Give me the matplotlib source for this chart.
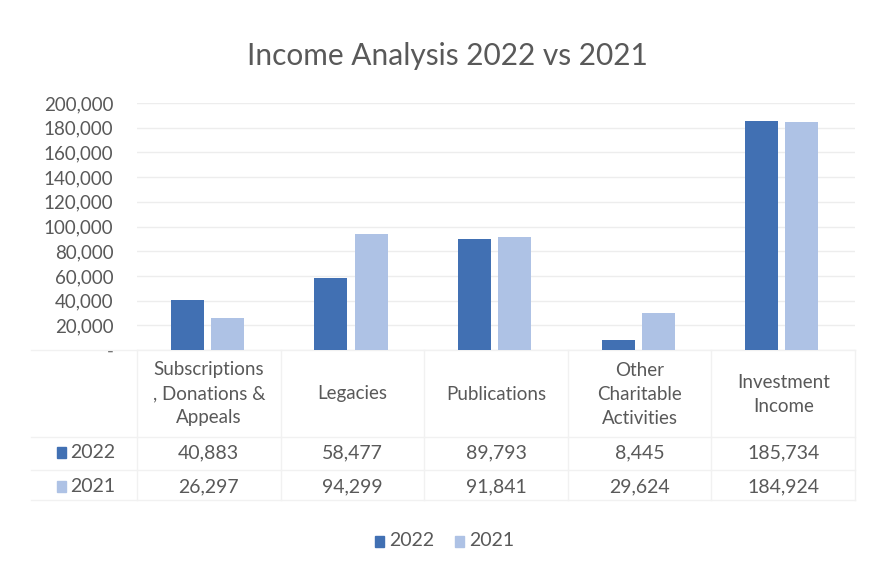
import numpy as np
import matplotlib
matplotlib.use("Agg")
import matplotlib.pyplot as plt
from matplotlib.transforms import blended_transform_factory

# ── data ─────────────────────────────────────────────────────────────────────
categories = [
    "Subscriptions\n, Donations &\nAppeals",
    "Legacies",
    "Publications",
    "Other\nCharitable\nActivities",
    "Investment\nIncome",
]
income_2022 = [40883, 58477, 89793, 8445, 185734]
income_2021 = [26297, 94299, 91841, 29624, 184924]
series_names = ["2022", "2021"]
y_ticks = [0, 20000, 40000, 60000, 80000, 100000, 120000, 140000, 160000, 180000, 200000]

DARK = "#4170B3"
LIGHT = "#AEC2E5"
TEXT = "#595959"
GRID = "#EDEDED"
TABLE_LINE = "#F1F1F1"

plt.rcParams["font.family"] = ["Lato", "DejaVu Sans"]

fig = plt.figure(figsize=(8.71, 5.67), dpi=100)
ax = fig.add_axes([137 / 871, 1 - 350 / 567, (855 - 137) / 871, (350 - 103) / 567])

x = np.arange(len(categories))
bw = 0.23
ax.bar(x - 0.15, income_2022, bw, color=DARK, zorder=3)
ax.bar(x + 0.13, income_2021, bw, color=LIGHT, zorder=3)

ax.set_xlim(-0.5, len(categories) - 0.5)
ax.set_ylim(0, 200000)
ax.set_yticks(y_ticks)
ax.set_yticklabels(["-" if v == 0 else f"{v:,}" for v in y_ticks],
                   fontsize=13.5, color=TEXT)
ax.tick_params(axis="y", length=0, pad=17)
ax.set_xticks([])
ax.yaxis.grid(True, color=GRID, linewidth=1)
ax.set_axisbelow(True)
for s in ax.spines.values():
    s.set_visible(False)

fig.text(447 / 871, 1 - 56 / 567, "Income Analysis 2022 vs 2021",
         ha="center", va="center", fontsize=21.5, color=TEXT)

# ── data table under the plot ───────────────────────────────────────────────
tr = blended_transform_factory(ax.transData, ax.transAxes)
h = (350 - 103)


def ypos(py):
    # pixel row -> axes fraction
    return (350 - py) / h


for i, cat in enumerate(categories):
    ax.text(i, ypos(394), cat, transform=tr, ha="center", va="center",
            fontsize=13.5, color=TEXT, linespacing=1.5, clip_on=False)
    ax.text(i, ypos(453), f"{income_2022[i]:,}", transform=tr, ha="center",
            va="center", fontsize=14, color=TEXT, clip_on=False)
    ax.text(i, ypos(487), f"{income_2021[i]:,}", transform=tr, ha="center",
            va="center", fontsize=14, color=TEXT, clip_on=False)

# row headers with colour keys
for py, name, col in [(453, series_names[0], DARK), (487, series_names[1], LIGHT)]:
    fig.patches.append(plt.Rectangle((57 / 871, 1 - (py + 5) / 567), 9 / 871, 11 / 567,
                                     transform=fig.transFigure, color=col))
    fig.text(70 / 871, 1 - py / 567, name, ha="left", va="center",
             fontsize=14, color=TEXT)

# faint table grid
for xb in np.arange(-0.5, len(categories) + 0.5, 1):
    ax.plot([xb, xb], [0, ypos(500)], transform=tr, color=TABLE_LINE, lw=1, clip_on=False)
for py in [350, 437, 470, 500]:
    ax.plot([-0.5 - 107 / 145, len(categories) - 0.5], [ypos(py)] * 2, transform=tr,
            color=TABLE_LINE, lw=1, clip_on=False)

# legend
for lx, name, col in [(375, series_names[0], DARK), (455, series_names[1], LIGHT)]:
    fig.patches.append(plt.Rectangle((lx / 871, 1 - 547 / 567), 9 / 871, 11 / 567,
                                     transform=fig.transFigure, color=col))
    fig.text((lx + 14) / 871, 1 - 541 / 567, name, ha="left", va="center",
             fontsize=14, color=TEXT)

fig.savefig("out.png", dpi=100)
